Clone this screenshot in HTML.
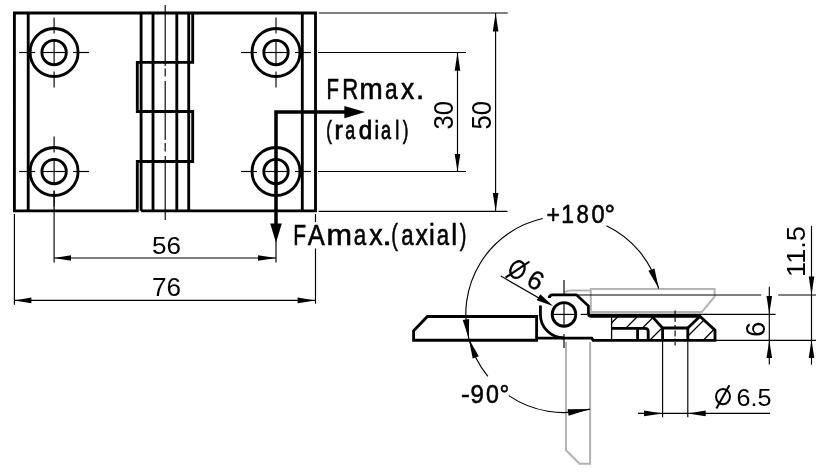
<!DOCTYPE html>
<html><head><meta charset="utf-8"><style>
html,body{margin:0;padding:0;background:#fff;width:827px;height:472px;overflow:hidden}
svg{display:block;will-change:transform}
</style></head><body>
<svg width="827" height="472" viewBox="0 0 827 472">
<rect width="827" height="472" fill="#fff"/>
<path d="M141.1,210.8 H315.5 V13.0 H14.4 V210.8 H137.3 V161.5 H192.7 V111.5 H137.3 V62.4 H192.7 V13.0" stroke="#000" stroke-width="2.85" fill="none" stroke-linejoin="miter"/>
<line x1="28.2" y1="13.0" x2="28.2" y2="210.8" stroke="#000" stroke-width="2.85" />
<line x1="141.1" y1="13.0" x2="141.1" y2="210.8" stroke="#000" stroke-width="2.85" />
<line x1="153.0" y1="13.0" x2="153.0" y2="210.8" stroke="#000" stroke-width="2.85" />
<line x1="176.8" y1="13.0" x2="176.8" y2="210.8" stroke="#000" stroke-width="2.85" />
<line x1="188.7" y1="13.0" x2="188.7" y2="210.8" stroke="#000" stroke-width="2.85" />
<line x1="302.3" y1="13.0" x2="302.3" y2="210.8" stroke="#000" stroke-width="2.85" />
<circle cx="54.1" cy="52.5" r="24" fill="none" stroke="#000" stroke-width="2.85"/>
<circle cx="54.1" cy="52.5" r="12.2" fill="none" stroke="#000" stroke-width="2.85"/>
<line x1="19.1" y1="52.5" x2="35.1" y2="52.5" stroke="#000" stroke-width="1.15" />
<line x1="54.1" y1="17.5" x2="54.1" y2="33.5" stroke="#000" stroke-width="1.15" />
<line x1="41.1" y1="52.5" x2="67.1" y2="52.5" stroke="#000" stroke-width="1.15" />
<line x1="54.1" y1="39.5" x2="54.1" y2="65.5" stroke="#000" stroke-width="1.15" />
<line x1="73.1" y1="52.5" x2="89.1" y2="52.5" stroke="#000" stroke-width="1.15" />
<line x1="54.1" y1="71.5" x2="54.1" y2="87.5" stroke="#000" stroke-width="1.15" />
<circle cx="54.1" cy="171.5" r="24" fill="none" stroke="#000" stroke-width="2.85"/>
<circle cx="54.1" cy="171.5" r="12.2" fill="none" stroke="#000" stroke-width="2.85"/>
<line x1="19.1" y1="171.5" x2="35.1" y2="171.5" stroke="#000" stroke-width="1.15" />
<line x1="54.1" y1="136.5" x2="54.1" y2="152.5" stroke="#000" stroke-width="1.15" />
<line x1="41.1" y1="171.5" x2="67.1" y2="171.5" stroke="#000" stroke-width="1.15" />
<line x1="54.1" y1="158.5" x2="54.1" y2="184.5" stroke="#000" stroke-width="1.15" />
<line x1="73.1" y1="171.5" x2="89.1" y2="171.5" stroke="#000" stroke-width="1.15" />
<line x1="54.1" y1="190.5" x2="54.1" y2="206.5" stroke="#000" stroke-width="1.15" />
<circle cx="276.0" cy="52.5" r="24" fill="none" stroke="#000" stroke-width="2.85"/>
<circle cx="276.0" cy="52.5" r="12.2" fill="none" stroke="#000" stroke-width="2.85"/>
<line x1="241.0" y1="52.5" x2="257.0" y2="52.5" stroke="#000" stroke-width="1.15" />
<line x1="276.0" y1="17.5" x2="276.0" y2="33.5" stroke="#000" stroke-width="1.15" />
<line x1="263.0" y1="52.5" x2="289.0" y2="52.5" stroke="#000" stroke-width="1.15" />
<line x1="276.0" y1="39.5" x2="276.0" y2="65.5" stroke="#000" stroke-width="1.15" />
<line x1="295.0" y1="52.5" x2="311.0" y2="52.5" stroke="#000" stroke-width="1.15" />
<line x1="276.0" y1="71.5" x2="276.0" y2="87.5" stroke="#000" stroke-width="1.15" />
<circle cx="276.0" cy="171.5" r="24" fill="none" stroke="#000" stroke-width="2.85"/>
<circle cx="276.0" cy="171.5" r="12.2" fill="none" stroke="#000" stroke-width="2.85"/>
<line x1="241.0" y1="171.5" x2="257.0" y2="171.5" stroke="#000" stroke-width="1.15" />
<line x1="276.0" y1="136.5" x2="276.0" y2="152.5" stroke="#000" stroke-width="1.15" />
<line x1="263.0" y1="171.5" x2="289.0" y2="171.5" stroke="#000" stroke-width="1.15" />
<line x1="276.0" y1="158.5" x2="276.0" y2="184.5" stroke="#000" stroke-width="1.15" />
<line x1="295.0" y1="171.5" x2="311.0" y2="171.5" stroke="#000" stroke-width="1.15" />
<line x1="276.0" y1="190.5" x2="276.0" y2="206.5" stroke="#000" stroke-width="1.15" />
<line x1="165.2" y1="5" x2="165.2" y2="66" stroke="#000" stroke-width="1.15" />
<line x1="165.2" y1="68.5" x2="165.2" y2="76.5" stroke="#000" stroke-width="1.15" />
<line x1="165.2" y1="81" x2="165.2" y2="140" stroke="#000" stroke-width="1.15" />
<line x1="165.2" y1="143" x2="165.2" y2="151.5" stroke="#000" stroke-width="1.15" />
<line x1="165.2" y1="156" x2="165.2" y2="220" stroke="#000" stroke-width="1.15" />
<line x1="54.1" y1="191" x2="54.1" y2="262.4" stroke="#000" stroke-width="1.15" />
<line x1="276.0" y1="191" x2="276.0" y2="262.5" stroke="#000" stroke-width="1.15" />
<line x1="14.4" y1="214" x2="14.4" y2="304.8" stroke="#000" stroke-width="1.15" />
<line x1="315.5" y1="214" x2="315.5" y2="222" stroke="#000" stroke-width="1.15" />
<line x1="315.5" y1="248.5" x2="315.5" y2="303.7" stroke="#000" stroke-width="1.15" />
<line x1="318" y1="52.5" x2="466" y2="52.5" stroke="#000" stroke-width="1.15" />
<line x1="318" y1="171.5" x2="466" y2="171.5" stroke="#000" stroke-width="1.15" />
<line x1="318.8" y1="13.0" x2="507.8" y2="13.0" stroke="#000" stroke-width="1.15" />
<line x1="318.6" y1="211.4" x2="507.5" y2="211.4" stroke="#000" stroke-width="1.15" />
<line x1="54.1" y1="258" x2="276" y2="258" stroke="#000" stroke-width="1.15" />
<polygon points="54.10,258.00 71.00,255.20 71.00,260.80" fill="#000"/>
<polygon points="276.00,258.00 258.00,260.80 258.00,255.20" fill="#000"/>
<line x1="14.4" y1="300.4" x2="315.5" y2="300.4" stroke="#000" stroke-width="1.15" />
<polygon points="14.40,300.40 31.40,297.60 31.40,303.20" fill="#000"/>
<polygon points="315.50,300.40 297.60,303.20 297.60,297.60" fill="#000"/>
<line x1="457.5" y1="52.5" x2="457.5" y2="171.5" stroke="#000" stroke-width="1.15" />
<polygon points="457.50,52.50 460.30,70.80 454.70,70.80" fill="#000"/>
<polygon points="457.50,171.50 454.70,154.00 460.30,154.00" fill="#000"/>
<line x1="495.6" y1="13" x2="495.6" y2="211.4" stroke="#000" stroke-width="1.15" />
<polygon points="495.60,13.00 498.40,31.40 492.80,31.40" fill="#000"/>
<polygon points="495.60,211.40 492.80,193.00 498.40,193.00" fill="#000"/>
<path d="M276,225 V112.1 H345" stroke="#000" stroke-width="3.5" fill="none" stroke-linejoin="miter"/>
<polygon points="344.4,106 365.1,112.1 344.4,118.2" fill="#000"/>
<polygon points="270.2,223.6 276,242.8 281.8,223.6" fill="#000"/>
<path d="M427.4,316.5 H536.6 V340.2 H413.6 V330.8 Z" stroke="#000" stroke-width="2.85" fill="none" />
<path d="M536.6,338.1 H591.7 L593.2,340.3 H715 V330.2 L700,316.4 H591.3 Q588.5,316.4 588.5,313.6 V306 L576.4,294.8 H552.5 Q549.3,294.8 549.3,298" stroke="#000" stroke-width="2.85" fill="none" />
<path d="M540.4,305.5 V314.4 A23.6,23.6 0 0 0 564.0,338.0" stroke="#000" stroke-width="2.85" fill="none" />
<circle cx="564.0" cy="314.4" r="11.8" fill="none" stroke="#000" stroke-width="2.85"/>
<path d="M611.6,328.3 H645 Q648.2,328.3 648.2,331.5 V340.3" stroke="#000" stroke-width="2.85" fill="none" />
<path d="M637.6,328.3 V340.3" stroke="#000" stroke-width="2.85" fill="none" />
<path d="M652,316.4 L662.6,328 V340.3" stroke="#000" stroke-width="2.85" fill="none" />
<path d="M662.6,328 H687.8 V340.3" stroke="#000" stroke-width="2.85" fill="none" />
<path d="M687.8,328 L699.8,316.4" stroke="#000" stroke-width="2.85" fill="none" />
<line x1="611.6" y1="316.4" x2="611.6" y2="340.3" stroke="#000" stroke-width="1.3" />
<clipPath id="hA"><polygon points="611.6,316.4 652,316.4 662.6,328 662.6,340.3 648.2,340.3 648.2,328.3 611.6,328.3"/><polygon points="687.8,328 699.8,316.4 715,330.2 715,340.3 687.8,340.3"/></clipPath>
<path d="M556,360 L616,300 M574.5,360 L634.5,300 M594,360 L654,300 M610.5,360 L670.5,300 M630,360 L690,300 M647,360 L707,300 M664,360 L724,300 M683.5,360 L743.5,300 M701,360 L761,300" stroke="#000" stroke-width="1.3" clip-path="url(#hA)"/>
<path d="M590.8,288.9 H714.6 V296.7 L701.8,312.1 H590.8 Z" stroke="#b3b3b3" stroke-width="2.0" fill="none" />
<path d="M565,292.2 Q567,290.6 572.3,290.6 H590.8" stroke="#b3b3b3" stroke-width="2.0" fill="none" />
<path d="M566,342 V450.3 L579.6,463.8 H590.1 V342" stroke="#b3b3b3" stroke-width="2.0" fill="none" />
<line x1="553" y1="314.4" x2="575" y2="314.4" stroke="#000" stroke-width="1.15" />
<line x1="580.7" y1="314.4" x2="587.5" y2="314.4" stroke="#000" stroke-width="1.15" />
<line x1="564.0" y1="280" x2="564.0" y2="294" stroke="#000" stroke-width="1.15" />
<line x1="564.0" y1="304" x2="564.0" y2="325" stroke="#000" stroke-width="1.15" />
<line x1="564.0" y1="334" x2="564.0" y2="348" stroke="#000" stroke-width="1.15" />
<line x1="675.1" y1="310.6" x2="675.1" y2="314.5" stroke="#000" stroke-width="1.15" />
<line x1="675.1" y1="316" x2="675.1" y2="322" stroke="#000" stroke-width="1.15" />
<line x1="675.1" y1="325" x2="675.1" y2="328" stroke="#000" stroke-width="1.15" />
<line x1="675.1" y1="330.5" x2="675.1" y2="336.5" stroke="#000" stroke-width="1.15" />
<line x1="675.1" y1="338.5" x2="675.1" y2="340" stroke="#000" stroke-width="1.15" />
<line x1="675.1" y1="342" x2="675.1" y2="345.5" stroke="#000" stroke-width="1.15" />
<line x1="576" y1="295" x2="761.2" y2="295" stroke="#000" stroke-width="1.15" />
<line x1="778.2" y1="295" x2="816" y2="295" stroke="#000" stroke-width="1.15" />
<line x1="590" y1="314.3" x2="775.6" y2="314.3" stroke="#000" stroke-width="1.15" />
<line x1="715" y1="340.3" x2="816" y2="340.3" stroke="#000" stroke-width="1.15" />
<line x1="662.6" y1="340" x2="662.6" y2="417.2" stroke="#000" stroke-width="1.15" />
<line x1="687.8" y1="340" x2="687.8" y2="417.2" stroke="#000" stroke-width="1.15" />
<line x1="769.3" y1="286.8" x2="769.3" y2="364.6" stroke="#000" stroke-width="1.15" />
<polygon points="769.30,313.90 766.50,296.10 772.10,296.10" fill="#000"/>
<polygon points="769.30,340.20 772.10,358.00 766.50,358.00" fill="#000"/>
<line x1="811.5" y1="225.9" x2="811.5" y2="364.6" stroke="#000" stroke-width="1.15" />
<polygon points="811.50,295.00 808.70,276.50 814.30,276.50" fill="#000"/>
<polygon points="811.50,340.20 814.30,358.00 808.70,358.00" fill="#000"/>
<line x1="638" y1="413.4" x2="770.1" y2="413.4" stroke="#000" stroke-width="1.15" />
<polygon points="662.60,413.40 644.00,416.20 644.00,410.60" fill="#000"/>
<polygon points="687.80,413.40 705.70,410.60 705.70,416.20" fill="#000"/>
<path d="M468.84,338.66 A98.2,98.2 0 0 1 542.75,218.53 M606.43,225.84 A98.2,98.2 0 0 1 658.72,288.49 M468.84,338.66 A98.2,98.2 0 0 0 487.90,376.47 M508.80,395.62 A98.2,98.2 0 0 0 589.91,409.12" stroke="#000" stroke-width="1.15" fill="none" />
<polygon points="468.84,338.66 462.72,320.03 469.15,319.05" fill="#000"/>
<polygon points="468.84,338.66 478.79,356.33 472.69,358.57" fill="#000"/>
<polygon points="658.72,288.49 648.39,270.84 654.45,268.49" fill="#000"/>
<polygon points="589.91,409.12 568.61,415.73 567.61,409.30" fill="#000"/>
<line x1="500.8" y1="276.1" x2="545" y2="301.5" stroke="#000" stroke-width="1.15" />
<polygon points="553.00,306.00 536.68,300.19 540.32,294.21" fill="#000"/>
<g stroke="#000" stroke-width="0.6"><text transform="translate(326.49,99.35) scale(0.705,1)" font-size="28.88" font-family="Liberation Sans, sans-serif">F</text><text transform="translate(342.36,99.35) scale(0.766,1)" font-size="28.88" font-family="Liberation Sans, sans-serif">R</text><text transform="translate(359.56,99.35) scale(0.966,1)" font-size="28.88" font-family="Liberation Sans, sans-serif">m</text><text transform="translate(384.95,99.35) scale(0.786,1)" font-size="28.88" font-family="Liberation Sans, sans-serif">a</text><text transform="translate(401.04,99.35) scale(0.914,1)" font-size="28.88" font-family="Liberation Sans, sans-serif">x</text><text transform="translate(416.00,99.35) scale(1.026,1)" font-size="28.88" font-family="Liberation Sans, sans-serif">.</text></g>
<g stroke="#000" stroke-width="0.75"><text transform="translate(326.15,139.22) scale(0.666,1)" font-size="25.40" font-family="Liberation Sans, sans-serif">(</text><text transform="translate(334.62,139.22) scale(0.983,1)" font-size="25.40" font-family="Liberation Sans, sans-serif">r</text><text transform="translate(345.28,139.22) scale(0.703,1)" font-size="25.40" font-family="Liberation Sans, sans-serif">a</text><text transform="translate(358.69,139.22) scale(0.954,1)" font-size="25.40" font-family="Liberation Sans, sans-serif">d</text><text transform="translate(374.55,139.22) scale(0.819,1)" font-size="25.40" font-family="Liberation Sans, sans-serif">i</text><text transform="translate(380.97,139.22) scale(0.710,1)" font-size="25.40" font-family="Liberation Sans, sans-serif">a</text><text transform="translate(395.19,139.22) scale(0.721,1)" font-size="25.40" font-family="Liberation Sans, sans-serif">l</text><text transform="translate(402.82,139.22) scale(0.666,1)" font-size="25.40" font-family="Liberation Sans, sans-serif">)</text></g>
<g stroke="#000" stroke-width="0.6"><text transform="translate(293.14,245.40) scale(0.721,1)" font-size="29.08" font-family="Liberation Sans, sans-serif">F</text><text transform="translate(307.80,245.40) scale(0.875,1)" font-size="29.08" font-family="Liberation Sans, sans-serif">A</text><text transform="translate(326.40,245.40) scale(1.053,1)" font-size="29.08" font-family="Liberation Sans, sans-serif">m</text><text transform="translate(353.76,245.40) scale(0.769,1)" font-size="29.08" font-family="Liberation Sans, sans-serif">a</text><text transform="translate(369.33,245.40) scale(0.922,1)" font-size="29.08" font-family="Liberation Sans, sans-serif">x</text><text transform="translate(382.36,245.40) scale(1.195,1)" font-size="29.08" font-family="Liberation Sans, sans-serif">.</text><text transform="translate(391.32,245.40) scale(0.689,1)" font-size="29.08" font-family="Liberation Sans, sans-serif">(</text><text transform="translate(401.36,245.40) scale(0.762,1)" font-size="29.08" font-family="Liberation Sans, sans-serif">a</text><text transform="translate(415.54,245.40) scale(0.854,1)" font-size="29.08" font-family="Liberation Sans, sans-serif">x</text><text transform="translate(429.05,245.40) scale(0.904,1)" font-size="29.08" font-family="Liberation Sans, sans-serif">i</text><text transform="translate(436.66,245.40) scale(0.762,1)" font-size="29.08" font-family="Liberation Sans, sans-serif">a</text><text transform="translate(451.35,245.40) scale(0.904,1)" font-size="29.08" font-family="Liberation Sans, sans-serif">l</text><text transform="translate(459.65,245.40) scale(0.689,1)" font-size="29.08" font-family="Liberation Sans, sans-serif">)</text></g>
<text x="152" y="253.9" font-size="24.7" font-family="Liberation Sans, sans-serif" textLength="29" lengthAdjust="spacingAndGlyphs">56</text>
<text x="152" y="296.2" font-size="24.9" font-family="Liberation Sans, sans-serif" textLength="29" lengthAdjust="spacingAndGlyphs">76</text>
<text transform="translate(453.1,127.6) rotate(-90)" font-size="27.8" font-family="Liberation Sans, sans-serif" textLength="28.5" lengthAdjust="spacingAndGlyphs" x="-2" y="0">30</text>
<text transform="translate(490.5,127.6) rotate(-90)" font-size="27.8" font-family="Liberation Sans, sans-serif" textLength="28.5" lengthAdjust="spacingAndGlyphs" x="-2" y="0">50</text>
<g stroke="#000" stroke-width="0.6"><text transform="translate(546.38,222.70) scale(0.876,1)" font-size="26.28" font-family="Liberation Sans, sans-serif">+</text><text transform="translate(561.20,222.70) scale(0.872,1)" font-size="26.28" font-family="Liberation Sans, sans-serif">1</text><text transform="translate(576.49,222.70) scale(0.843,1)" font-size="26.28" font-family="Liberation Sans, sans-serif">8</text><text transform="translate(591.50,222.70) scale(0.897,1)" font-size="26.28" font-family="Liberation Sans, sans-serif">0</text><text transform="translate(604.47,222.70) scale(1.005,1)" font-size="26.28" font-family="Liberation Sans, sans-serif">°</text></g>
<g stroke="#000" stroke-width="0.6"><text transform="translate(461.08,403.40) scale(1.007,1)" font-size="26.28" font-family="Liberation Sans, sans-serif">-</text><text transform="translate(470.50,403.40) scale(0.917,1)" font-size="26.28" font-family="Liberation Sans, sans-serif">9</text><text transform="translate(486.01,403.40) scale(0.882,1)" font-size="26.28" font-family="Liberation Sans, sans-serif">0</text><text transform="translate(499.57,403.40) scale(0.931,1)" font-size="26.28" font-family="Liberation Sans, sans-serif">°</text></g>
<text transform="translate(804.8,276) rotate(-90)" font-size="26" font-family="Liberation Sans, sans-serif" textLength="51" lengthAdjust="spacingAndGlyphs" x="-1" y="0">11.5</text>
<text transform="translate(764.9,335.8) rotate(-90)" font-size="27.6" font-family="Liberation Sans, sans-serif" x="-1.2" y="0">6</text>
<ellipse cx="723" cy="396.6" rx="7" ry="7.7" fill="none" stroke="#000" stroke-width="2"/><line x1="716.4" y1="408.4" x2="729.4" y2="385.2" stroke="#000" stroke-width="2"/>
<text x="736.5" y="405.6" font-size="24.5" font-family="Liberation Sans, sans-serif" textLength="35" lengthAdjust="spacingAndGlyphs">6.5</text>
<g transform="translate(517.5,269.6) rotate(28)"><ellipse cx="0" cy="0" rx="6.7" ry="8.7" fill="none" stroke="#000" stroke-width="2.3"/><line x1="-6.8" y1="12.6" x2="6.8" y2="-12.6" stroke="#000" stroke-width="2.1"/><text x="13.8" y="9.8" font-size="26.2" stroke="#000" stroke-width="0.35" font-family="Liberation Sans, sans-serif">6</text></g>
</svg>
</body></html>
